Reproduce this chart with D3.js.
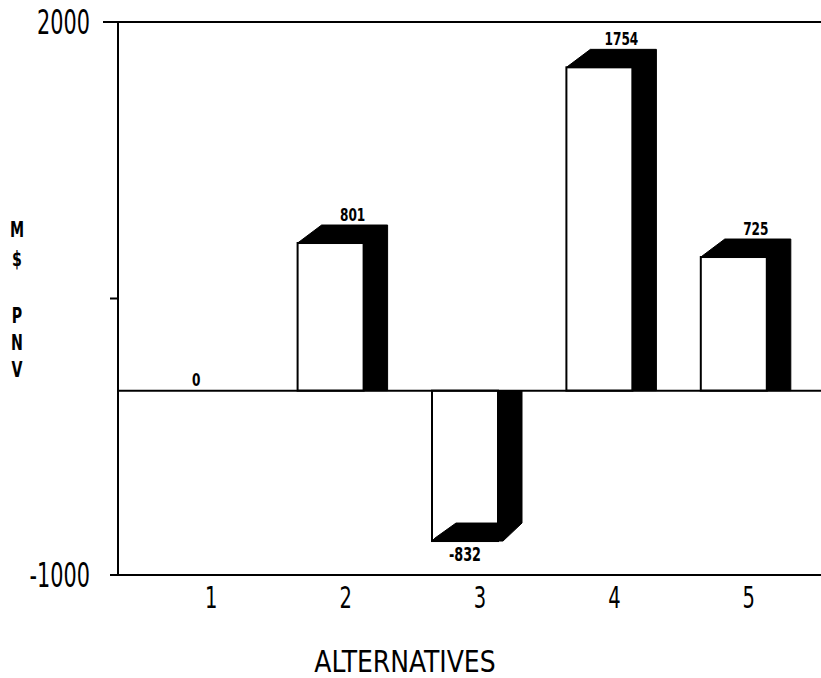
<!DOCTYPE html>
<html>
<head>
<meta charset="utf-8">
<script src="https://cdn.jsdelivr.net/npm/d3@7"></script>
<style>
  body { margin: 0; background: #fff; }
  text { font-family: "DejaVu Sans Condensed", "Liberation Sans Narrow", sans-serif; fill: #000; }
</style>
</head>
<body>
<script>
var categories = ["1", "2", "3", "4", "5"];
var values = [0, 801, -832, 1754, 725];
var tickValues = [2000, 500, -1000];
var tickLabels = ["2000", "", "-1000"];
var yTitle = ["M", "$", "P", "N", "V"];
var xTitle = "ALTERNATIVES";

var width = 821, height = 678;

var svg = d3.select("body").append("svg")
    .attr("width", width)
    .attr("height", height);

var y = d3.scaleLinear().domain([-1000, 2000]).range([575, 22]);
var x = d3.scaleBand().domain(categories).range([141, 813]);

var axisX = 118,
    frontW = 66,
    dx = 24,
    dy = 18;

// squeezed text helper (the original lettering is very condensed)
function label(g, str, px, py, size, anchor, sx, weight) {
    g.append("text")
        .attr("transform", "translate(" + px + "," + py + ") scale(" + (sx || 0.85) + ",1)")
        .attr("text-anchor", anchor || "middle")
        .style("font-size", size + "px")
        .style("font-weight", weight || "normal")
        .text(str);
}

// frame lines
svg.append("line").attr("x1", 103).attr("x2", width).attr("y1", y(2000)).attr("y2", y(2000))
    .style("stroke", "#000").style("stroke-width", 2);
svg.append("line").attr("x1", 110).attr("x2", width).attr("y1", y(-1000)).attr("y2", y(-1000))
    .style("stroke", "#000").style("stroke-width", 2);
svg.append("line").attr("x1", axisX).attr("x2", axisX).attr("y1", y(2000)).attr("y2", y(-1000))
    .style("stroke", "#000").style("stroke-width", 2);
svg.append("line").attr("x1", 110).attr("x2", axisX).attr("y1", y(500)).attr("y2", y(500))
    .style("stroke", "#000").style("stroke-width", 2);

tickValues.forEach(function(v, i) {
    if (tickLabels[i]) label(svg, tickLabels[i], 90, y(v) + 12, 34, "end", 0.68);
});

// bars
var bars = svg.selectAll(".bar")
    .data(categories.map(function(c, i) { return {c: c, v: values[i]}; }))
    .enter().append("g")
    .attr("class", "bar");

bars.each(function(d) {
    var g = d3.select(this);
    var x0 = x(d.c) + (x.bandwidth() - frontW - dx) / 2,
        x1 = x0 + frontW,
        y0 = y(0),
        yv = y(d.v);
    if (d.v === 0) {
        label(g, "0", x0 + frontW / 2, y0 - 5, 18, "middle", 0.75, "bold");
        return;
    }
    var pts;
    if (d.v > 0) {
        g.append("rect")
            .attr("x", x0).attr("y", yv)
            .attr("width", frontW).attr("height", y0 - yv)
            .style("fill", "#fff").style("stroke", "#000").style("stroke-width", 2);
        pts = [[x0, yv], [x0 + dx, yv - dy], [x1 + dx, yv - dy], [x1 + dx, y0],
               [x1, y0], [x1, yv]];
        g.append("polygon").attr("points", pts.join(" ")).style("fill", "#000")
            .style("stroke", "#000").style("stroke-width", 1);
        label(g, d.v, x0 + dx + (frontW + dx) / 2 - 14, yv - dy - 4, 18, "middle", 0.75, "bold");
    } else {
        var yb = yv - 3;
        g.append("rect")
            .attr("x", x0).attr("y", y0)
            .attr("width", frontW).attr("height", yb - y0)
            .style("fill", "#fff").style("stroke", "#000").style("stroke-width", 2);
        pts = [[x1, y0], [x1 + dx, y0], [x1 + dx, yb - dy], [x1 + 5, yb],
               [x0, yb], [x0 + 3, yb - 3], [x0 + dx, yb - dy], [x1, yb - dy]];
        g.append("polygon").attr("points", pts.join(" ")).style("fill", "#000")
            .style("stroke", "#000").style("stroke-width", 1);
        label(g, d.v, x0 + frontW / 2, yb + 20, 19, "middle", 0.75, "bold");
    }
});

// zero line
svg.append("line").attr("x1", axisX).attr("x2", width).attr("y1", y(0)).attr("y2", y(0))
    .style("stroke", "#000").style("stroke-width", 2);

// category labels
categories.forEach(function(c) {
    label(svg, c, x(c) + x.bandwidth() / 2 + 3, 608, 31, "middle", 0.7);
});

// axis titles
label(svg, xTitle, 405, 672, 30, "middle", 0.93);
var yTitleBase = [237, 266, 323, 350, 377];
yTitle.forEach(function(t, i) {
    label(svg, t, 17, yTitleBase[i], 21, "middle", 0.75, "bold");
});
</script>
</body>
</html>
